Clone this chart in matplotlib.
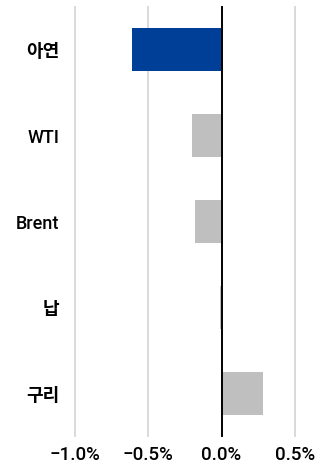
import matplotlib
matplotlib.use("Agg")
import matplotlib.pyplot as plt
from matplotlib.ticker import FuncFormatter

plt.rcParams['font.family'] = ['Roboto', 'Noto Sans CJK KR', 'DejaVu Sans']

categories = ["아연", "WTI", "Brent", "납", "구리"]
values = [-0.61, -0.20, -0.18, -0.01, 0.28]
highlight = "아연"
xticks = [-1.0, -0.5, 0.0, 0.5]

fig = plt.figure(figsize=(3.24, 4.68), dpi=100)
ax = fig.add_axes([0.23, 0.068, 0.6805, 0.917])

ypos = list(range(len(categories)))
colors = ["#003f98" if c == highlight else "#bfbfbf" for c in categories]
ax.barh(ypos, values, height=0.5, color=colors, zorder=2)

ax.set_xlim(-1.0, 0.5)
ax.set_ylim(len(categories) - 0.5, -0.5)

for t in xticks:
    if t == 0.0:
        ax.axvline(t, color="black", lw=1.4, zorder=3, clip_on=False)
    else:
        ax.axvline(t, color="#d9d9d9", lw=1.4, zorder=1, clip_on=False)

ax.set_xticks(xticks)
ax.xaxis.set_major_formatter(FuncFormatter(lambda v, p: f"{v:.1f}%".replace("-", "\u2212")))
ax.set_yticks(ypos)
ax.set_yticklabels(categories)
ax.tick_params(axis="x", length=0, pad=7, labelsize=13.5)
ax.tick_params(axis="y", length=0, pad=11, labelsize=13)
for lab in ax.get_xticklabels():
    lab.set_fontweight("medium")
# Hangul names in a heavier weight, Latin names in medium
for lab in ax.get_yticklabels():
    if lab.get_text().isascii():
        lab.set_fontweight("medium")
    else:
        lab.set_family(["Noto Sans CJK KR", "DejaVu Sans"])
        lab.set_fontweight("bold")
for s in ax.spines.values():
    s.set_visible(False)

fig.savefig("out.png", dpi=100)
